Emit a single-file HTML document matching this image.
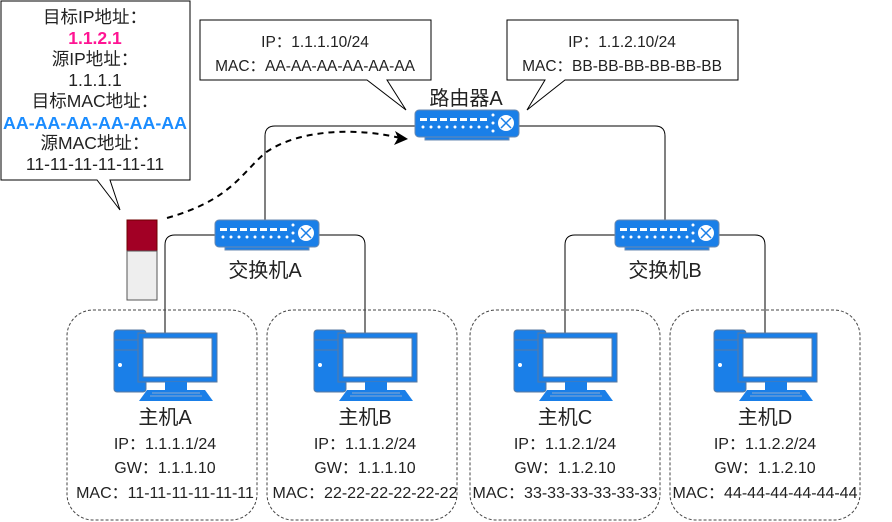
<!DOCTYPE html>
<html><head><meta charset="utf-8"><style>
body{margin:0;background:#fff}
svg{display:block;font-family:"Liberation Sans","Noto Sans CJK SC",sans-serif}
</style></head><body>
<svg width="892" height="522" viewBox="0 0 892 522" xmlns="http://www.w3.org/2000/svg">
<defs>
<g id="pc">
<rect x="0" y="0" width="32" height="62" rx="3" fill="#1a7fe8" stroke="#5a7aa0" stroke-width="1"/>
<line x1="1" y1="10" x2="31" y2="10" stroke="#5a7aa0"/>
<line x1="1" y1="20" x2="31" y2="20" stroke="#5a7aa0"/>
<circle cx="6" cy="35" r="2" fill="#fff"/>
<rect x="24" y="3" width="79" height="49" fill="#1a7fe8" stroke="#5a7aa0"/>
<rect x="29" y="8" width="69" height="39" fill="#fff" stroke="#5a7aa0"/>
<rect x="51" y="52" width="22" height="8" fill="#1a7fe8"/>
<polygon points="33,60 91,60 99,71 25,71" fill="#1a7fe8"/>
<line x1="38" y1="63" x2="86" y2="63" stroke="#8aa8d0"/>
<line x1="36" y1="66" x2="88" y2="66" stroke="#8aa8d0"/>
</g>
<g id="sw">
<rect x="10" y="24" width="84" height="6" fill="#1a7fe8" stroke="#6a8ab0"/>
<rect x="0" y="0" width="104" height="27" rx="4" fill="#1a7fe8" stroke="#6a8ab0"/>
<g fill="#fff">
<rect x="5" y="8" width="7" height="3"/><rect x="15" y="8" width="7" height="3"/><rect x="25" y="8" width="7" height="3"/><rect x="35" y="8" width="7" height="3"/><rect x="45" y="8" width="7" height="3"/><rect x="55" y="8" width="7" height="3"/><rect x="65" y="8" width="7" height="3"/>
<circle cx="8" cy="17" r="1.5"/><circle cx="16" cy="17" r="1.5"/><circle cx="24" cy="17" r="1.5"/><circle cx="32" cy="17" r="1.5"/><circle cx="40" cy="17" r="1.5"/><circle cx="48" cy="17" r="1.5"/><circle cx="56" cy="17" r="1.5"/><circle cx="64" cy="17" r="1.5"/><circle cx="72" cy="17" r="1.5"/>
<circle cx="78" cy="5" r="1.5"/><circle cx="78" cy="13" r="1.5"/><circle cx="78" cy="21" r="1.5"/>
<circle cx="91" cy="13" r="8"/>
</g>
<path d="M86 8 L96 18 M96 8 L86 18" stroke="#1a7fe8" stroke-width="1.5"/>
</g>
</defs>

<!-- left callout -->
<path d="M1 1 H190 V180 H110 L120 210 L97 180 H1 Z" fill="#fff" stroke="#000"/>
<g text-anchor="middle" font-size="17.5" fill="#222">
<text x="95" y="23">目标IP地址：</text>
<text x="95" y="44" fill="#ff1493" font-weight="bold">1.1.2.1</text>
<text x="95" y="65">源IP地址：</text>
<text x="95" y="86">1.1.1.1</text>
<text x="95" y="107">目标MAC地址：</text>
<text x="95" y="129" fill="#1a8cff" font-weight="bold" textLength="184" lengthAdjust="spacingAndGlyphs">AA-AA-AA-AA-AA-AA</text>
<text x="95" y="149">源MAC地址：</text>
<text x="95" y="170">11-11-11-11-11-11</text>
</g>

<!-- packet -->
<rect x="127" y="220" width="30" height="31" fill="#a20025" stroke="#6f0000"/>
<rect x="127" y="251" width="30" height="49" fill="#eeeeee" stroke="#555"/>

<!-- router callouts -->
<path d="M200 20 H431 V80 H387 L406 110 L367 80 H200 Z" fill="#fff" stroke="#000"/>
<text x="315" y="47" text-anchor="middle" font-size="15.5" fill="#222">IP：1.1.1.10/24</text>
<text x="315" y="71" text-anchor="middle" font-size="15.5" fill="#222">MAC：AA-AA-AA-AA-AA-AA</text>
<path d="M507 20 H738 V80 H565 L527 110 L545 80 H507 Z" fill="#fff" stroke="#000"/>
<text x="622" y="47" text-anchor="middle" font-size="15.5" fill="#222">IP：1.1.2.10/24</text>
<text x="622" y="71" text-anchor="middle" font-size="15.5" fill="#222">MAC：BB-BB-BB-BB-BB-BB</text>

<!-- links -->
<g fill="none" stroke="#000" stroke-width="1">
<path d="M415 126 H275 Q265 126 265 136 V220"/>
<path d="M519 126 H655 Q665 126 665 136 V220"/>
<path d="M215 235 H175 Q165 235 165 245 V333"/>
<path d="M315 235 H355 Q365 235 365 245 V333"/>
<path d="M615 235 H575 Q565 235 565 245 V333"/>
<path d="M715 235 H755 Q765 235 765 245 V333"/>
</g>

<!-- dashed arrow -->
<path d="M167 218 C230 200 240 175 265 153 C300 128 360 128 400 138" fill="none" stroke="#000" stroke-width="2" stroke-dasharray="6,5"/>
<polygon points="408,139 395,131 398,138 394,145" fill="#000"/>

<!-- devices -->
<use href="#sw" x="415" y="110"/>
<text x="466" y="105" text-anchor="middle" font-size="20" fill="#222">路由器A</text>
<use href="#sw" x="215" y="220"/>
<text x="265" y="277" text-anchor="middle" font-size="20" fill="#222">交换机A</text>
<use href="#sw" x="615" y="220"/>
<text x="665" y="277" text-anchor="middle" font-size="20" fill="#222">交换机B</text>

<!-- host boxes -->
<g fill="none" stroke="#444" stroke-dasharray="3,2">
<rect x="67" y="310" width="190" height="210" rx="26"/>
<rect x="267" y="310" width="190" height="210" rx="26"/>
<rect x="470" y="310" width="190" height="210" rx="26"/>
<rect x="670" y="310" width="190" height="210" rx="26"/>
</g>
<use href="#pc" x="114" y="330"/>
<use href="#pc" x="314" y="330"/>
<use href="#pc" x="514" y="330"/>
<use href="#pc" x="714" y="330"/>

<g text-anchor="middle" fill="#222">
<g font-size="20"><text x="165" y="424">主机A</text><text x="365" y="424">主机B</text><text x="565" y="424">主机C</text><text x="765" y="424">主机D</text></g>
<g font-size="16">
<text x="165" y="449">IP：1.1.1.1/24</text><text x="165" y="473">GW：1.1.1.10</text><text x="165" y="498">MAC：11-11-11-11-11-11</text>
<text x="365" y="449">IP：1.1.1.2/24</text><text x="365" y="473">GW：1.1.1.10</text><text x="365" y="498">MAC：22-22-22-22-22-22</text>
<text x="565" y="449">IP：1.1.2.1/24</text><text x="565" y="473">GW：1.1.2.10</text><text x="565" y="498">MAC：33-33-33-33-33-33</text>
<text x="765" y="449">IP：1.1.2.2/24</text><text x="765" y="473">GW：1.1.2.10</text><text x="765" y="498">MAC：44-44-44-44-44-44</text>
</g>
</g>
</svg>
</body></html>
